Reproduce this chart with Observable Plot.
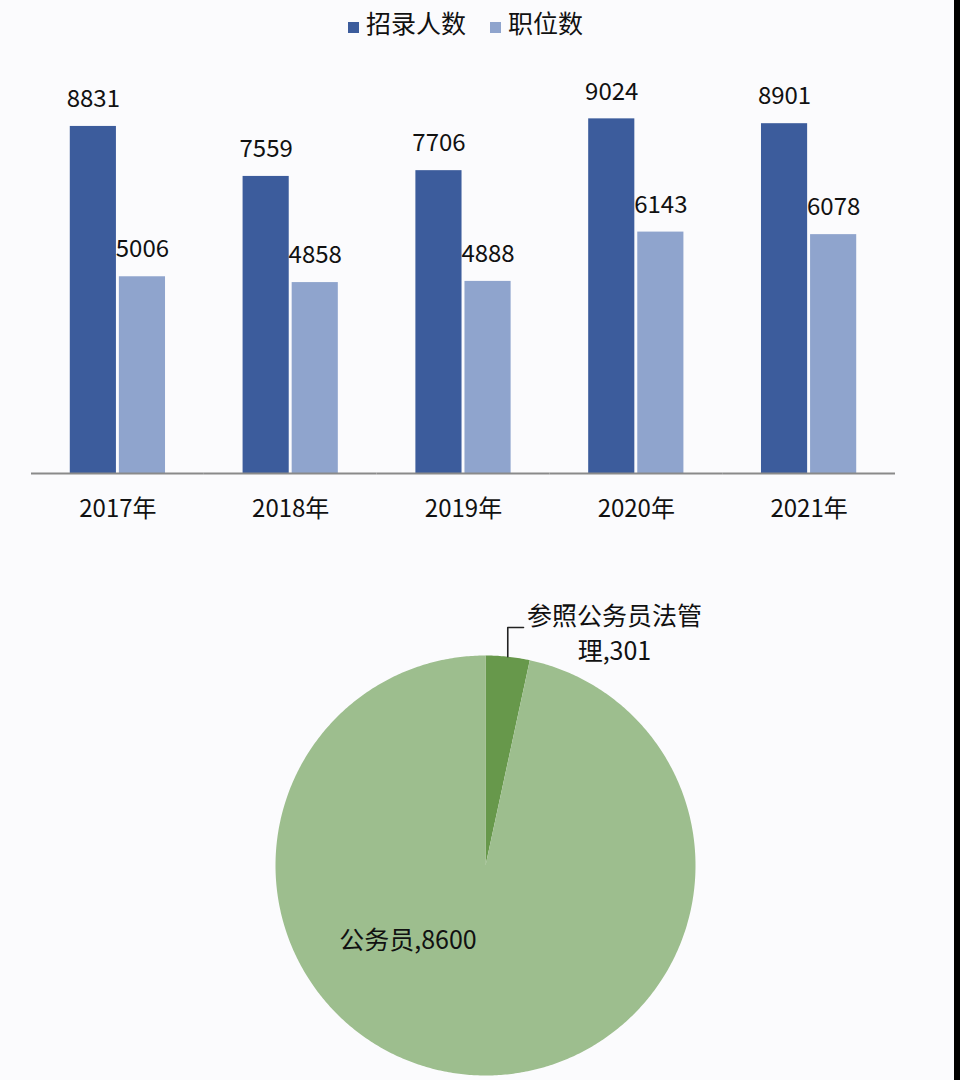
<!DOCTYPE html>
<html>
<head>
<meta charset="utf-8">
<script src="https://cdn.jsdelivr.net/npm/d3@7"></script>
<script src="https://cdn.jsdelivr.net/npm/@observablehq/plot@0.6"></script>
<style>
  html, body { margin: 0; padding: 0; }
  body { width: 960px; height: 1080px; background: #fbfbfd; position: relative; overflow: hidden;
         font-family: "Noto Sans CJK SC", "Noto Sans", sans-serif; color: #111; }
  #legend { position: absolute; left: 348px; top: 4px; height: 36px; display: flex; align-items: center; font-size: 25px; }
  .item { display: flex; align-items: flex-end; margin-right: 24px; }
  .sw { width: 11px; height: 11px; margin-right: 7px; margin-bottom: 7px; }
  #bars { position: absolute; left: 0; top: 45px; }
  #pie { position: absolute; left: 0; top: 545px; }
  #edge { position: absolute; right: 0; top: 0; width: 6px; height: 1080px; background: #000; }
</style>
</head>
<body>
<div id="legend"></div>
<div id="bars"></div>
<div id="pie"></div>
<div id="edge"></div>
<script>
// ---- data ----
const years = ["2017年", "2018年", "2019年", "2020年", "2021年"];
const seriesNames = ["招录人数", "职位数"];
const recruits = [8831, 7559, 7706, 9024, 8901];
const positions = [5006, 4858, 4888, 6143, 6078];
const seriesColors = ["#3c5c9c", "#8fa4cd"];

const pieCategories = ["参照公务员法管理", "公务员"];
const pieValues = [301, 8600];
const pieLabels = ["参照公务员法管\n理,301", "公务员,8600"];
const pieColors = ["#67984b", "#9dbe8e"];

// ---- legend ----
const legend = document.getElementById("legend");
seriesNames.forEach((name, i) => {
  const it = document.createElement("div");
  it.className = "item";
  const sw = document.createElement("div");
  sw.className = "sw";
  sw.style.background = seriesColors[i];
  const t = document.createElement("span");
  t.textContent = name;
  it.appendChild(sw); it.appendChild(t);
  legend.appendChild(it);
});

// ---- bar chart ----
const barData = [];
years.forEach((y, i) => {
  barData.push({year: y, series: seriesNames[0], value: recruits[i]});
  barData.push({year: y, series: seriesNames[1], value: positions[i]});
});

const font = "'Noto Sans CJK SC', 'Noto Sans', sans-serif";

const bars = Plot.plot({
  width: 960,
  height: 500,
  marginTop: 35,
  marginBottom: 72,
  marginLeft: 31,
  marginRight: 65,
  style: {fontFamily: font, background: "transparent", color: "#111"},
  fx: {domain: years, padding: 0, round: false, label: null, axis: null},
  x: {domain: seriesNames, paddingInner: 0.06, paddingOuter: 0.79, round: false, axis: null},
  y: {domain: [0, 10000], axis: null},
  color: {domain: seriesNames, range: seriesColors},
  marks: [
    Plot.barY(barData, {fx: "year", x: "series", y: "value", fill: "series"}),
    Plot.ruleY([0], {stroke: "#8a8a8a", strokeWidth: 2}),
    Plot.text(barData, {fx: "year", x: "series", y: "value", text: d => String(d.value),
      dy: -27, lineAnchor: "middle", fontSize: 24, fill: "#111"}),
    Plot.axisFx({anchor: "bottom", tickSize: 0, tickPadding: 26, fontSize: 24, label: null, fill: "#111"})
  ]
});
document.getElementById("bars").appendChild(bars);

// ---- pie chart ----
const arcs = d3.pie().sort(null)(pieValues);
const piePts = [];
arcs.forEach((a, i) => {
  const cat = pieCategories[i];
  piePts.push({cat, x: 0, y: 0});
  const n = Math.max(2, Math.ceil((a.endAngle - a.startAngle) / 0.01));
  for (let k = 0; k <= n; k++) {
    const t = a.startAngle + (a.endAngle - a.startAngle) * k / n;
    piePts.push({cat, x: Math.sin(t), y: Math.cos(t)});
  }
  piePts.push({cat, x: 0, y: 0});
});

// label placement (layout config)
const smallMid = (arcs[0].startAngle + arcs[0].endAngle) / 2;
const leaderTop = 1.133, leaderEnd = 0.181;
const leader = [
  {x: Math.sin(smallMid), y: Math.cos(smallMid)},
  {x: Math.sin(smallMid), y: leaderTop},
  {x: leaderEnd, y: leaderTop}
];
const labelPos = [
  {x: 0.614, y: 1.115},
  {x: Math.sin(227 * Math.PI / 180) * 0.505, y: Math.cos(227 * Math.PI / 180) * 0.505}
];
const labelData = pieLabels.map((t, i) => ({text: t, x: labelPos[i].x, y: labelPos[i].y}));

const pie = Plot.plot({
  width: 960,
  height: 535,
  margin: 0,
  style: {fontFamily: font, background: "transparent", color: "#111"},
  x: {domain: [-1, 1], range: [275, 695], axis: null},
  y: {domain: [-1, 1], range: [530, 110], axis: null},
  color: {domain: pieCategories, range: pieColors},
  marks: [
    Plot.line(piePts, {x: "x", y: "y", z: "cat", fill: "cat", stroke: "none", curve: "linear"}),
    Plot.line(leader, {x: "x", y: "y", stroke: "#222", strokeWidth: 1.6}),
    Plot.text(labelData, {x: "x", y: "y", text: "text", fontSize: 25, lineHeight: 1.4,
      lineAnchor: "middle", textAnchor: "middle", fill: "#111"})
  ]
});
document.getElementById("pie").appendChild(pie);
</script>
</body>
</html>
